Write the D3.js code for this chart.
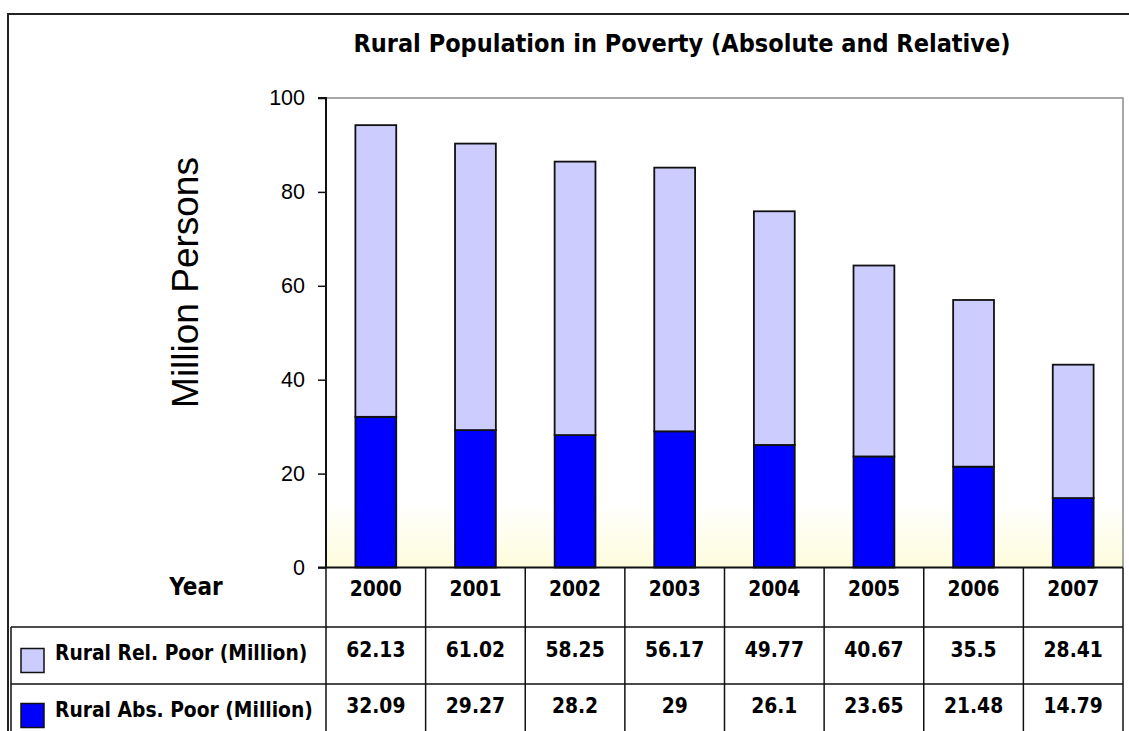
<!DOCTYPE html>
<html>
<head>
<meta charset="utf-8">
<script src="https://cdn.jsdelivr.net/npm/d3@7"></script>
<style>
  html, body { margin: 0; padding: 0; background: #fff; }
  svg { display: block; }
</style>
</head>
<body>
<svg id="chart" width="1129" height="731"></svg>
<script>
// Rural poverty figures, million persons
const years = ["2000", "2001", "2002", "2003", "2004", "2005", "2006", "2007"];
const relPoor = [62.13, 61.02, 58.25, 56.17, 49.77, 40.67, 35.5, 28.41];
const absPoor = [32.09, 29.27, 28.2, 29, 26.1, 23.65, 21.48, 14.79];
const seriesNames = ["Rural Rel. Poor (Million)", "Rural Abs. Poor (Million)"];
const seriesColors = ["#CCCCFF", "#0000FF"];
const yTicks = [0, 20, 40, 60, 80, 100];
const titleText = "Rural Population in Poverty (Absolute and Relative)";
const yAxisTitle = "Million Persons";
const headerLabel = "Year";

const svg = d3.select("#chart");
const W = 1129, H = 731;

const plot = { left: 326, right: 1123, top: 98, bottom: 567.5 };
const tableRows = [567.5, 627, 684];
const tableLeft = 11;

const boldFont = "'DejaVu Sans Condensed', 'DejaVu Sans', sans-serif";
const plainFont = "'Liberation Sans', Arial, sans-serif";

const x = d3.scaleBand().domain(years).range([plot.left, plot.right]).paddingInner(0).paddingOuter(0);
const y = d3.scaleLinear().domain([0, 100]).range([plot.bottom, plot.top]);

// plot background with soft yellow fade at the base
const defs = svg.append("defs");
const grad = defs.append("linearGradient").attr("id", "plotBg")
  .attr("x1", 0).attr("y1", 0).attr("x2", 0).attr("y2", 1);
grad.append("stop").attr("offset", "0%").attr("stop-color", "#ffffff");
grad.append("stop").attr("offset", "86%").attr("stop-color", "#ffffff");
grad.append("stop").attr("offset", "100%").attr("stop-color", "#fdfcdc");

svg.append("rect")
  .attr("x", plot.left).attr("y", plot.top)
  .attr("width", plot.right - plot.left).attr("height", plot.bottom - plot.top)
  .attr("fill", "url(#plotBg)");

// plot area frame: top and right edges
svg.append("path")
  .attr("d", `M${plot.left},${plot.top}H${plot.right}V${plot.bottom}`)
  .attr("fill", "none").attr("stroke", "#8c8c8c").attr("stroke-width", 1.5);

// stacked bars
const rows = years.map((yr, i) => ({ year: yr, abs: absPoor[i], rel: relPoor[i] }));
const stacked = d3.stack().keys(["abs", "rel"])(rows);
const barW = x.bandwidth() * 0.41;
const colorByKey = { abs: seriesColors[1], rel: seriesColors[0] };

svg.append("g").selectAll("g")
  .data(stacked)
  .join("g")
  .attr("fill", d => colorByKey[d.key])
  .selectAll("rect")
  .data(d => d)
  .join("rect")
  .attr("x", d => x(d.data.year) + (x.bandwidth() - barW) / 2)
  .attr("y", d => y(d[1]))
  .attr("width", barW)
  .attr("height", d => y(d[0]) - y(d[1]))
  .attr("stroke", "#111")
  .attr("stroke-width", 1.8);

// y axis
const yAxis = d3.axisLeft(y).tickValues(yTicks).tickSize(8).tickPadding(13);
const gy = svg.append("g").attr("transform", `translate(${plot.left},0)`).call(yAxis);
gy.select(".domain").attr("stroke", "#111").attr("stroke-width", 2).attr("d", `M-8,${plot.top}H0V${plot.bottom}`);
gy.selectAll(".tick line").attr("stroke", "#111").attr("stroke-width", 1.5);
gy.selectAll(".tick text")
  .attr("font-family", plainFont).attr("font-size", 21.5).attr("fill", "#000");

// y axis title
svg.append("text")
  .attr("transform", `translate(198,${(155 + 410) / 2}) rotate(-90)`)
  .attr("text-anchor", "middle")
  .attr("font-family", plainFont).attr("font-size", 37)
  .attr("fill", "#000")
  .text(yAxisTitle);

// chart title
svg.append("text")
  .attr("x", 682).attr("y", 52)
  .attr("text-anchor", "middle")
  .attr("font-family", boldFont).attr("font-weight", "bold").attr("font-size", 25)
  .attr("fill", "#000")
  .text(titleText);

// data table beneath the plot
const tbl = svg.append("g").attr("stroke", "#111").attr("stroke-width", 1.5).attr("fill", "none");
// column separators
const colEdges = years.map(yr => x(yr)).concat([plot.right]);
tbl.selectAll("line.col").data(colEdges).join("line")
  .attr("class", "col")
  .attr("x1", d => d).attr("x2", d => d)
  .attr("y1", tableRows[0]).attr("y2", H);
// horizontal rules
tbl.append("line").attr("x1", plot.left - 8).attr("x2", plot.right).attr("y1", tableRows[0]).attr("y2", tableRows[0]).attr("stroke-width", 2);
tbl.selectAll("line.row").data([tableRows[1], tableRows[2]]).join("line")
  .attr("class", "row")
  .attr("x1", tableLeft).attr("x2", plot.right)
  .attr("y1", d => d).attr("y2", d => d);
tbl.append("line").attr("x1", tableLeft).attr("x2", tableLeft).attr("y1", tableRows[1]).attr("y2", H);

// header row: year labels
const textG = svg.append("g")
  .attr("font-family", boldFont).attr("font-weight", "bold").attr("font-size", 20.8).attr("fill", "#000");
textG.append("text").attr("x", 196).attr("y", 595).attr("text-anchor", "middle")
  .attr("font-size", 24)
  .text(headerLabel);
textG.selectAll("text.yr").data(years).join("text")
  .attr("class", "yr")
  .attr("x", d => x(d) + x.bandwidth() / 2).attr("y", 596)
  .attr("text-anchor", "middle")
  .text(d => d);

// series rows
const seriesRows = [
  { name: seriesNames[0], color: seriesColors[0], values: relPoor, cy: 657, legendY: 660, keyY: 648.5 },
  { name: seriesNames[1], color: seriesColors[1], values: absPoor, cy: 713, legendY: 717, keyY: 703.5 }
];
seriesRows.forEach(r => {
  svg.append("rect")
    .attr("x", 21).attr("y", r.keyY).attr("width", 23).attr("height", 24)
    .attr("fill", r.color).attr("stroke", "#111").attr("stroke-width", 1.5);
  textG.append("text").attr("x", 55).attr("y", r.legendY).text(r.name);
  textG.selectAll(null).data(r.values).join("text")
    .attr("x", (d, i) => x(years[i]) + x.bandwidth() / 2).attr("y", r.cy)
    .attr("text-anchor", "middle")
    .text(d => String(d));
});

// outer chart frame
svg.append("path")
  .attr("d", `M8,${H}V14H${W}`)
  .attr("fill", "none").attr("stroke", "#222").attr("stroke-width", 2);
</script>
</body>
</html>
